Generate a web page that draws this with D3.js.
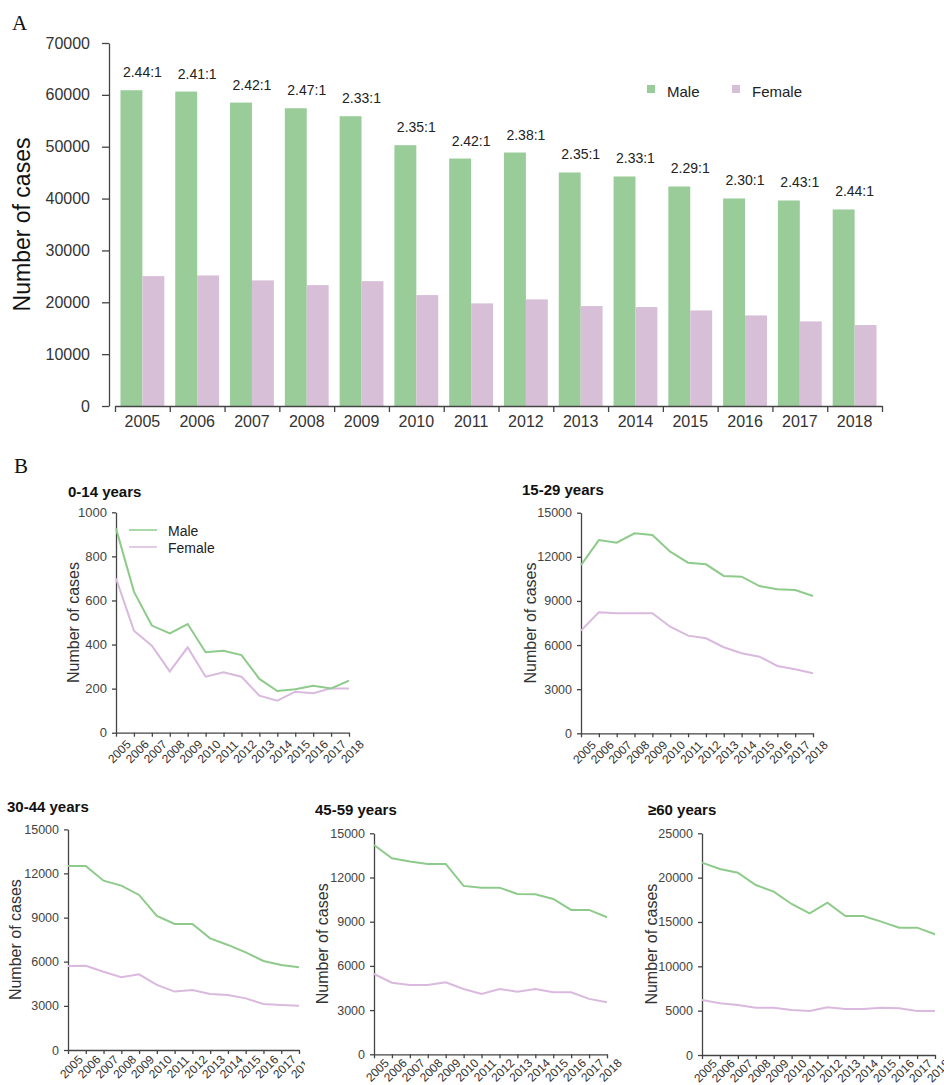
<!DOCTYPE html>
<html>
<head>
<meta charset="utf-8">
<script src="https://cdn.jsdelivr.net/npm/d3@7/dist/d3.min.js"></script>
<style>
  html, body { margin: 0; padding: 0; background: #fff; }
  svg { display: block; font-family: "Liberation Sans", Arial, sans-serif; }
</style>
</head>
<body>
<svg id="fig" width="944" height="1085"></svg>
<script>
// ---- data ----
const years = [2005, 2006, 2007, 2008, 2009, 2010, 2011, 2012, 2013, 2014, 2015, 2016, 2017, 2018];

// Panel A: total cases by sex
const maleTotal   = [60890, 60630, 58510, 57420, 55880, 50290, 47720, 48880, 45030, 44260, 42330, 40020, 39630, 37900];
const femaleTotal = [25050, 25180, 24220, 23310, 24080, 21390, 19790, 20560, 19270, 19080, 18430, 17470, 16320, 15610];
const sexRatio = ["2.44:1", "2.41:1", "2.42:1", "2.47:1", "2.33:1", "2.35:1", "2.42:1", "2.38:1", "2.35:1", "2.33:1", "2.29:1", "2.30:1", "2.43:1", "2.44:1"];
const totalTicks = [0, 10000, 20000, 30000, 40000, 50000, 60000, 70000];
const seriesNames = ["Male", "Female"];

// Panel B: cases by age group and sex
const ageGroups = ["0-14 years", "15-29 years", "30-44 years", "45-59 years", "\u226560 years"];
const male0to14    = [927, 640, 486, 451, 493, 365, 372, 352, 244, 189, 197, 213, 201, 236];
const female0to14  = [700, 463, 395, 278, 387, 254, 274, 254, 168, 145, 186, 179, 201, 201];
const male15to29   = [11440, 13140, 12960, 13600, 13480, 12350, 11600, 11490, 10700, 10650, 10010, 9790, 9740, 9340];
const female15to29 = [6980, 8230, 8160, 8160, 8160, 7250, 6640, 6460, 5850, 5440, 5210, 4580, 4350, 4080];
const male30to44   = [12510, 12510, 11510, 11170, 10540, 9110, 8570, 8570, 7590, 7140, 6640, 6050, 5780, 5620];
const female30to44 = [5710, 5730, 5320, 4940, 5140, 4420, 3970, 4080, 3810, 3740, 3510, 3130, 3060, 3010];
const male45to59   = [14210, 13300, 13080, 12920, 12920, 11430, 11310, 11310, 10880, 10860, 10540, 9800, 9800, 9300];
const female45to59 = [5450, 4860, 4710, 4710, 4890, 4430, 4100, 4430, 4250, 4430, 4210, 4210, 3760, 3530];
const male60plus   = [21690, 20980, 20560, 19170, 18420, 17030, 15980, 17180, 15680, 15680, 15040, 14360, 14360, 13610];
const female60plus = [6200, 5830, 5640, 5340, 5340, 5080, 4960, 5380, 5190, 5190, 5340, 5260, 4960, 4960];
const ticks0to14  = [0, 200, 400, 600, 800, 1000];
const ticks15000  = [0, 3000, 6000, 9000, 12000, 15000];
const ticks25000  = [0, 5000, 10000, 15000, 20000, 25000];

// ---- styles ----
const maleFill = "#99cc99", femaleFill = "#d8bfd8";
const maleLine = "#8ecb8b", femaleLine = "#dab9de";
const axisColor = "#444";

const svg = d3.select("#fig");

// ================= Panel A: grouped bars =================
svg.append("text").attr("x", 12).attr("y", 30)
  .attr("font-family", "'Liberation Serif', 'Times New Roman', serif")
  .attr("font-size", 21).attr("fill", "#111").text("A");

const A = { left: 109, x0: 115, x1: 882, top: 43, bottom: 406 };
const xA = d3.scaleBand().domain(years).range([A.x0, A.x1]).paddingInner(0.2).paddingOuter(0.1);
const xSub = d3.scaleBand().domain(seriesNames).range([0, xA.bandwidth()]);
const yA = d3.scaleLinear().domain([0, 70000]).range([A.bottom, A.top]);

const gA = svg.append("g");
const rows = years.map((yr, i) => ({ year: yr, Male: maleTotal[i], Female: femaleTotal[i], ratio: sexRatio[i] }));

const groups = gA.selectAll("g.year").data(rows).join("g")
  .attr("class", "year")
  .attr("transform", d => `translate(${xA(d.year)},0)`);
groups.selectAll("rect").data(d => seriesNames.map(s => ({ s, v: d[s] }))).join("rect")
  .attr("x", d => xSub(d.s))
  .attr("width", xSub.bandwidth())
  .attr("y", d => yA(d.v))
  .attr("height", d => yA(0) - yA(d.v))
  .attr("fill", d => d.s === "Male" ? maleFill : femaleFill);

// ratio labels above each pair
gA.selectAll("text.ratio").data(rows).join("text")
  .attr("class", "ratio")
  .attr("x", d => xA(d.year) + xA.bandwidth() / 2)
  .attr("y", d => yA(d.Male) - 13)
  .attr("text-anchor", "middle")
  .attr("font-size", 14).attr("fill", "#222")
  .text(d => d.ratio);

// y axis
const yAxisA = gA.append("g").attr("transform", `translate(${A.left},0)`)
  .call(d3.axisLeft(yA).tickValues(totalTicks).tickSize(7).tickSizeOuter(0).tickPadding(12).tickFormat(d3.format("d")));
yAxisA.selectAll("path, line").attr("stroke", axisColor).attr("stroke-width", 1.3);
yAxisA.selectAll("text").attr("font-size", 16).attr("fill", "#333").attr("font-family", null);

// x axis: ticks at category boundaries, labels at band centres
const xEdge = d3.scaleLinear().domain([0, years.length]).range([A.x0, A.x1]);
const xAxisA = gA.append("g").attr("transform", `translate(0,${A.bottom})`)
  .call(d3.axisBottom(xEdge).tickValues(d3.range(0, years.length + 1)).tickSize(6).tickSizeOuter(0).tickFormat(""));
xAxisA.selectAll("path, line").attr("stroke", axisColor).attr("stroke-width", 1.3);
gA.selectAll("text.year").data(years).join("text")
  .attr("class", "year")
  .attr("x", d => xA(d) + xA.bandwidth() / 2)
  .attr("y", A.bottom + 21)
  .attr("text-anchor", "middle")
  .attr("font-size", 16).attr("fill", "#333")
  .text(d => d);

svg.append("text")
  .attr("transform", `translate(30,${(A.top + A.bottom) / 2}) rotate(-90)`)
  .attr("text-anchor", "middle")
  .attr("font-size", 23).attr("fill", "#111")
  .text("Number of cases");

// legend
const legA = [{ name: "Male", fill: maleFill, x: 647 }, { name: "Female", fill: femaleFill, x: 732 }];
const lg = svg.append("g").selectAll("g").data(legA).join("g");
lg.append("rect").attr("x", d => d.x).attr("y", 85).attr("width", 8).attr("height", 8).attr("fill", d => d.fill);
lg.append("text").attr("x", d => d.x + 20).attr("y", 97).attr("font-size", 15).attr("fill", "#222").text(d => d.name);

// ================= Panel B: line charts by age group =================
svg.append("text").attr("x", 14).attr("y", 473)
  .attr("font-family", "'Liberation Serif', 'Times New Roman', serif")
  .attr("font-size", 21).attr("fill", "#111").text("B");

const panels = [
  { title: ageGroups[0], male: male0to14, female: female0to14, max: 1000, ticks: ticks0to14,
    x0: 116, x1: 349, top: 512.3, bottom: 732.7, titleX: 68, titleY: 497, ytX: 79, tickFont: 13, labelDy: 19, legend: true },
  { title: ageGroups[1], male: male15to29, female: female15to29, max: 15000, ticks: ticks15000,
    x0: 581, x1: 813, top: 512.7, bottom: 733.3, titleX: 522, titleY: 495, ytX: 536, tickFont: 12.5, labelDy: 19 },
  { title: ageGroups[2], male: male30to44, female: female30to44, max: 15000, ticks: ticks15000,
    x0: 68, x1: 299, top: 829.3, bottom: 1050, titleX: 7, titleY: 812, ytX: 21, tickFont: 12.5, labelDy: 17, clipRight: 305 },
  { title: ageGroups[3], male: male45to59, female: female45to59, max: 15000, ticks: ticks15000,
    x0: 374, x1: 607, top: 833.3, bottom: 1054.3, titleX: 315, titleY: 815, ytX: 328, tickFont: 12.5, labelDy: 16 },
  { title: ageGroups[4], male: male60plus, female: female60plus, max: 25000, ticks: ticks25000,
    x0: 702, x1: 935, top: 833.3, bottom: 1055, titleX: 648, titleY: 815, ytX: 657, tickFont: 12.5, labelDy: 16 }
];

panels.forEach((p, k) => {
  const g = svg.append("g");
  if (p.clipRight) {
    const id = "clip" + k;
    svg.append("clipPath").attr("id", id).append("rect")
      .attr("x", 0).attr("y", p.top - 40).attr("width", p.clipRight).attr("height", 300);
    g.attr("clip-path", `url(#${id})`);
  }
  const x = d3.scalePoint().domain(years).range([p.x0, p.x1]);
  const y = d3.scaleLinear().domain([0, p.max]).range([p.bottom, p.top]);

  g.append("text").attr("x", p.titleX).attr("y", p.titleY)
    .attr("font-size", 15).attr("font-weight", "bold").attr("fill", "#111").text(p.title);

  const ya = g.append("g").attr("transform", `translate(${p.x0},0)`)
    .call(d3.axisLeft(y).tickValues(p.ticks).tickSize(4).tickSizeOuter(0).tickPadding(5).tickFormat(d3.format("d")));
  ya.selectAll("path, line").attr("stroke", axisColor).attr("stroke-width", 1.3);
  ya.selectAll("text").attr("font-size", p.tickFont).attr("fill", "#444").attr("font-family", null);

  const xa = g.append("g").attr("transform", `translate(0,${p.bottom})`)
    .call(d3.axisBottom(x).tickSize(4).tickSizeOuter(0).tickFormat(""));
  xa.selectAll("path, line").attr("stroke", axisColor).attr("stroke-width", 1.3);
  g.selectAll("text.xt").data(years).join("text")
    .attr("class", "xt")
    .attr("transform", d => `translate(${x(d) + 3.5},${p.bottom + p.labelDy})rotate(-45)`)
    .attr("text-anchor", "middle").attr("dominant-baseline", "central")
    .attr("font-size", 12).attr("fill", "#333")
    .text(d => d);

  const line = d3.line().x((d, i) => x(years[i])).y(d => y(d));
  g.append("path").datum(p.female).attr("d", line)
    .attr("fill", "none").attr("stroke", femaleLine).attr("stroke-width", 2);
  g.append("path").datum(p.male).attr("d", line)
    .attr("fill", "none").attr("stroke", maleLine).attr("stroke-width", 2);

  g.append("text")
    .attr("transform", `translate(${p.ytX},${(p.top + p.bottom) / 2}) rotate(-90)`)
    .attr("text-anchor", "middle").attr("font-size", 16).attr("fill", "#333")
    .text("Number of cases");

  if (p.legend) {
    const items = [{ name: "Male", c: maleLine, y: 530 }, { name: "Female", c: femaleLine, y: 547 }];
    const li = g.selectAll("g.leg").data(items).join("g").attr("class", "leg");
    li.append("line").attr("x1", 129).attr("x2", 157).attr("y1", d => d.y).attr("y2", d => d.y)
      .attr("stroke", d => d.c).attr("stroke-width", 1.5);
    li.append("text").attr("x", 168).attr("y", d => d.y + 5.5).attr("font-size", 14).attr("fill", "#222").text(d => d.name);
  }
});
</script>
</body>
</html>
